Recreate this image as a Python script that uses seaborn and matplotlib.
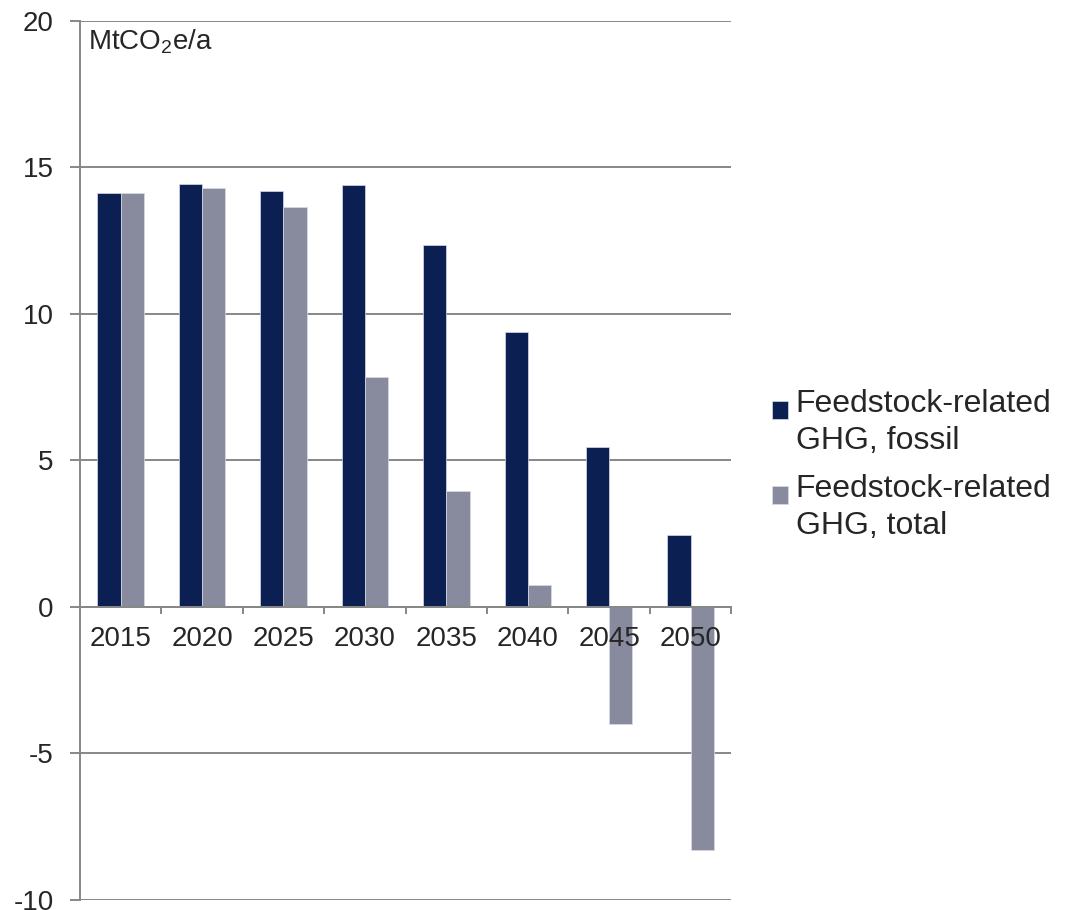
import pandas as pd
import matplotlib
matplotlib.use("Agg")
import matplotlib.pyplot as plt
import seaborn as sns
from matplotlib.ticker import FixedLocator
from matplotlib.patches import Rectangle
from matplotlib.legend_handler import HandlerPatch

# Data
years = ["2015", "2020", "2025", "2030", "2035", "2040", "2045", "2050"]
ghg_fossil = [14.14, 14.44, 14.19, 14.40, 12.34, 9.38, 5.45, 2.44]
ghg_total = [14.14, 14.29, 13.66, 7.84, 3.95, 0.76, -4.01, -8.29]
series_names = ["Feedstock-related\nGHG, fossil", "Feedstock-related\nGHG, total"]
y_ticks = [-10, -5, 0, 5, 10, 15, 20]

df = pd.DataFrame({
    "year": years * 2,
    "value": ghg_fossil + ghg_total,
    "series": [series_names[0]] * len(years) + [series_names[1]] * len(years),
})

sns.set_style("white")
plt.rcParams["font.family"] = ["Liberation Sans", "DejaVu Sans"]
plt.rcParams["mathtext.fontset"] = "custom"
plt.rcParams["mathtext.rm"] = "Liberation Sans"
plt.rcParams["mathtext.it"] = "Liberation Sans"

grid_col = "#878787"
colors = ["#001A5E", "#8587A0"]
fs = 20

fig = plt.figure(figsize=(10.66, 9.10), dpi=100)
ax = fig.add_axes([0.075, 0.011, 0.611, 0.966])

# gridlines behind the bars, tick labels above them
for t in y_ticks:
    ax.axhline(t, color=grid_col, linewidth=1.4, zorder=0.5)

sns.barplot(data=df, x="year", y="value", hue="series", palette=colors,
            width=0.57, edgecolor="#D8DCE8", linewidth=0.5, ax=ax, zorder=1)
ax.set_axisbelow(False)

ax.set_ylim(-10, 20)
ax.set_xlim(-0.5, len(years) - 0.5)
ax.set_yticks(y_ticks)
ax.set_yticklabels([str(t) for t in y_ticks], fontsize=fs)
ax.tick_params(axis="y", length=7, width=1.4, color=grid_col, pad=12, direction="out", left=True)

# x axis sits on the zero line
for s in ["top", "right"]:
    ax.spines[s].set_visible(False)
ax.spines["left"].set_color(grid_col)
ax.spines["left"].set_linewidth(1.4)
ax.spines["bottom"].set_position(("data", 0))
ax.spines["bottom"].set_color(grid_col)
ax.spines["bottom"].set_linewidth(1.4)
ax.tick_params(axis="x", which="major", length=0, labelsize=fs, pad=14)
ax.xaxis.set_minor_locator(FixedLocator([i + 0.5 for i in range(len(years))]))
ax.tick_params(axis="x", which="minor", length=5, width=1.4, color=grid_col, direction="out", bottom=True)
ax.set_xlabel("")
ax.set_ylabel("")

ax.text(0.012, 0.993, r"MtCO$_2$e/a", transform=ax.transAxes, fontsize=fs, va="top", ha="left")


# legend square sits next to the first line of the label
def top_square(legend, orig_handle, xdescent, ydescent, width, height, fontsize):
    return Rectangle((-xdescent, -ydescent + 0.40 * fontsize), width, height)


handles, labels = ax.get_legend_handles_labels()
ax.legend_.remove()
leg = fig.legend(handles, labels, loc="center left", bbox_to_anchor=(0.697, 0.489),
                 frameon=False, fontsize=23, handlelength=0.5, handleheight=0.5,
                 handletextpad=0.25, labelspacing=0.55,
                 handler_map={h: HandlerPatch(patch_func=top_square) for h in handles})
for t in leg.get_texts():
    t.set_linespacing(1.3)

fig.savefig("out.png", dpi=100)
